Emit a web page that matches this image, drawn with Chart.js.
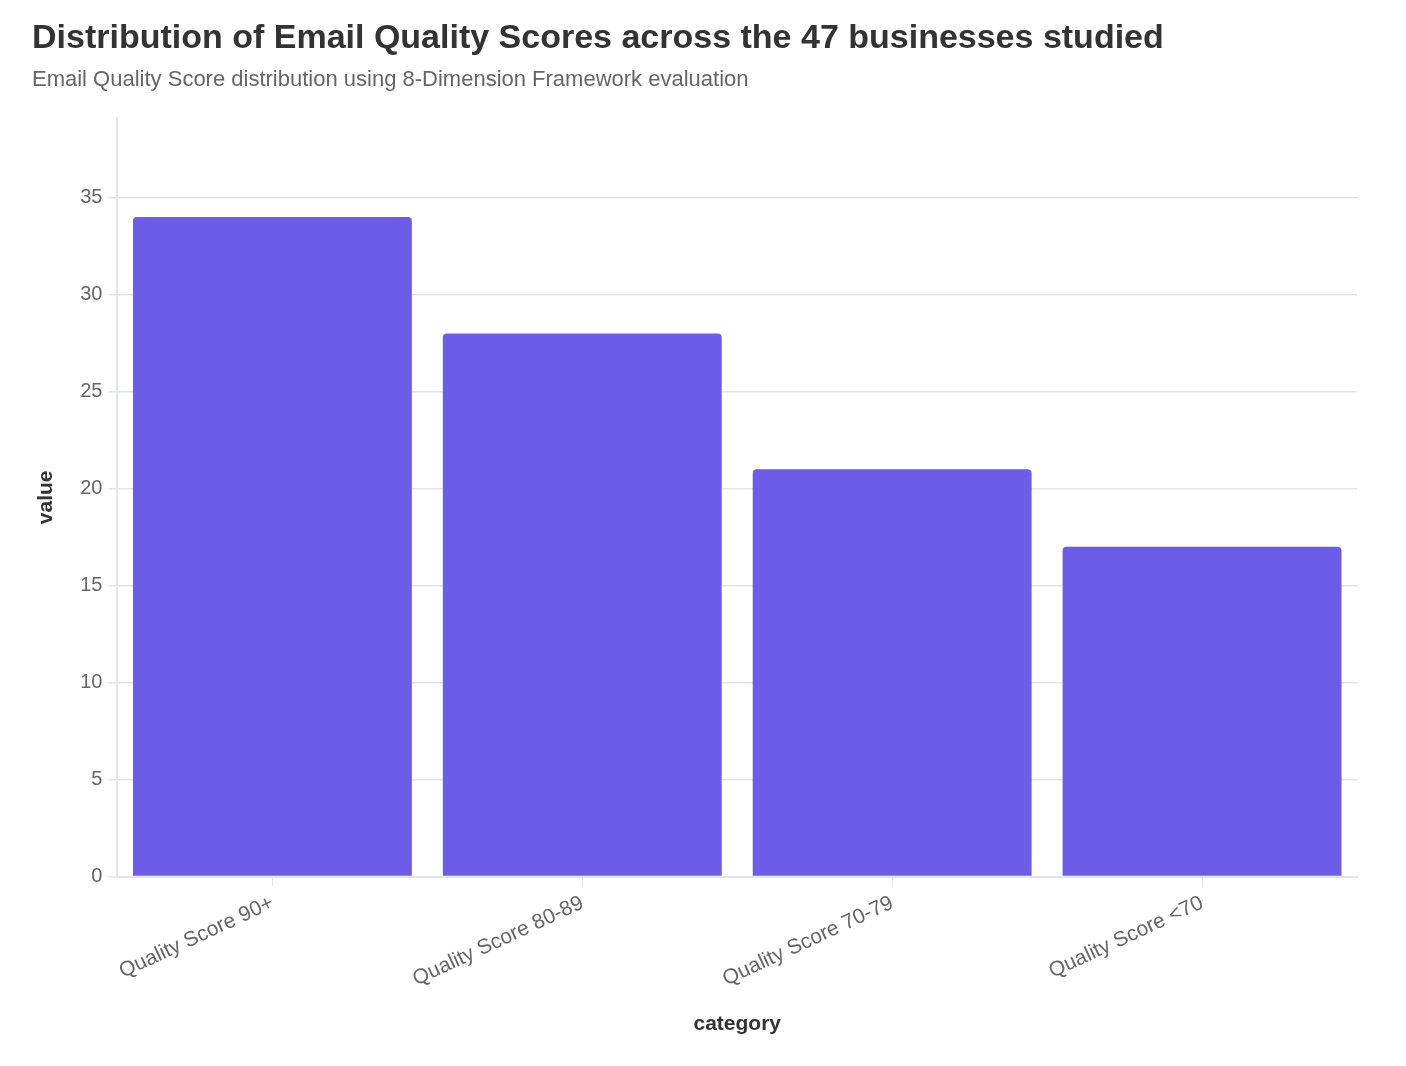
<!DOCTYPE html>
<html>
<head>
<meta charset="utf-8">
<script src="https://cdn.jsdelivr.net/npm/chart.js@4.4.1/dist/chart.umd.min.js"></script>
<style>
  html, body { margin: 0; padding: 0; background: #ffffff; }
  #wrap { width: 1406px; height: 1066px; }
</style>
</head>
<body>
<div id="wrap"><canvas id="chart"></canvas></div>
<script>
/* ===== datos ===== */
const categorias = ["Quality Score 90+", "Quality Score 80-89", "Quality Score 70-79", "Quality Score <70"];
const valores = [34, 28, 21, 17];
const ticksY = [0, 5, 10, 15, 20, 25, 30, 35];

const fuente = "'Liberation Sans', Arial, Helvetica, sans-serif";
const gris = "#666666";
const rejilla = "#e2e6e9";

new Chart(document.getElementById("chart"), {
  type: "bar",
  data: {
    labels: categorias,
    datasets: [{
      data: valores,
      backgroundColor: "#6c5ce7",
      borderRadius: { topLeft: 4, topRight: 4 },
      borderSkipped: "bottom",
      barPercentage: 0.9,
      categoryPercentage: 1.0
    }]
  },
  options: {
    responsive: true,
    maintainAspectRatio: false,
    animation: false,
    layout: { padding: { left: 32, right: 49, top: 18, bottom: 25 } },
    plugins: {
      legend: { display: false },
      tooltip: { enabled: false },
      title: {
        display: true,
        text: "Distribution of Email Quality Scores across the 47 businesses studied",
        align: "start",
        color: "#333333",
        font: { family: fuente, size: 34, weight: "bold" },
        padding: { top: 0, bottom: 7 }
      },
      subtitle: {
        display: true,
        text: "Email Quality Score distribution using 8-Dimension Framework evaluation",
        align: "start",
        color: gris,
        font: { family: fuente, size: 22 },
        padding: { top: 1, bottom: 25 }
      }
    },
    scales: {
      x: {
        grid: { offset: false, drawOnChartArea: false, drawTicks: true, tickLength: 10, color: rejilla },
        border: { color: rejilla, width: 2 },
        ticks: {
          color: gris,
          font: { family: fuente, size: 21 },
          minRotation: 25,
          maxRotation: 25,
          padding: 4
        },
        title: {
          display: true,
          text: "category",
          color: "#333333",
          font: { family: fuente, size: 21, weight: "bold" },
          padding: { top: 16, bottom: 4 }
        }
      },
      y: {
        min: 0,
        max: 39.1,
        afterBuildTicks: eje => { eje.ticks = ticksY.map(v => ({ value: v })); },
        grid: { color: rejilla, tickLength: 9, lineWidth: 1.5 },
        border: { color: rejilla, width: 2 },
        ticks: {
          color: gris,
          font: { family: fuente, size: 20 },
          padding: 6
        },
        title: {
          display: true,
          text: "value",
          color: "#333333",
          font: { family: fuente, size: 21, weight: "bold" },
          padding: { top: 2, bottom: 15 }
        }
      }
    }
  }
});
</script>
</body>
</html>
